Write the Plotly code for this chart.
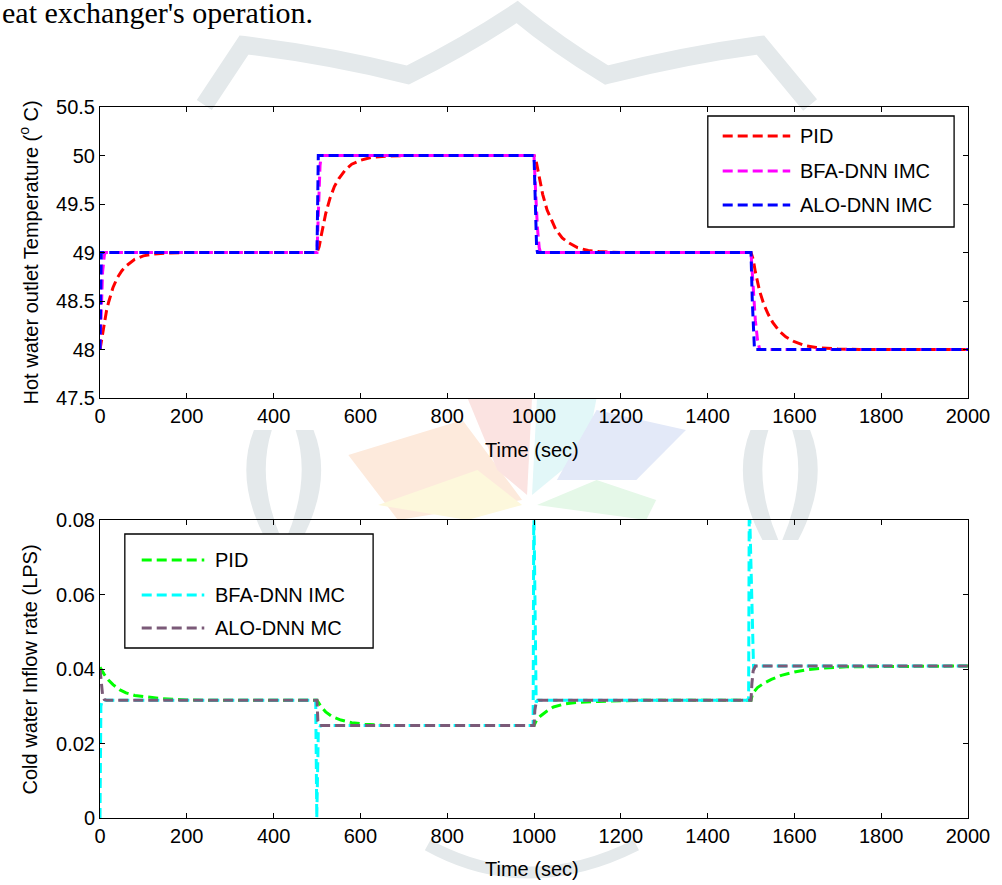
import plotly.graph_objects as go

# ---------------- data ----------------
# Top panel: hot water outlet temperature (deg C)
t_pid_top = [0, 5, 10, 15, 20, 30, 40, 50, 60, 80, 100, 125, 150, 200, 500,
             505, 510, 520, 530, 540, 550, 565, 580, 600, 625, 650, 700, 1000,
             1005, 1010, 1020, 1030, 1040, 1050, 1065, 1080, 1100, 1125, 1150, 1200, 1500,
             1505, 1510, 1520, 1530, 1540, 1550, 1565, 1580, 1600, 1625, 1650, 1700, 1750, 2000]
y_pid_top = [48.0, 48.14, 48.28, 48.40, 48.49, 48.64, 48.74, 48.81, 48.86, 48.93, 48.965, 48.985, 48.993, 49.0, 49.0,
             49.06, 49.18, 49.40, 49.56, 49.68, 49.76, 49.85, 49.91, 49.95, 49.98, 49.99, 50.0, 50.0,
             49.94, 49.82, 49.60, 49.44, 49.33, 49.24, 49.15, 49.10, 49.05, 49.02, 49.01, 49.0, 49.0,
             48.93, 48.80, 48.60, 48.46, 48.36, 48.28, 48.19, 48.13, 48.08, 48.04, 48.02, 48.005, 48.0, 48.0]

t_bfa_top = [0, 3, 6, 10, 12, 500, 503, 507, 510, 1000, 1004, 1008, 1012, 1015,
             1500, 1505, 1510, 1515, 1520, 2000]
y_bfa_top = [48.0, 48.4, 48.8, 48.97, 49.0, 49.0, 49.5, 49.9, 50.0, 50.0, 49.6, 49.25, 49.05, 49.0,
             49.0, 48.6, 48.3, 48.1, 48.0, 48.0]

t_alo_top = [0, 1.5, 3, 500, 501.5, 503, 1000, 1003, 1006, 1008,
             1500, 1503, 1506, 1508, 2000]
y_alo_top = [48.0, 48.9, 49.0, 49.0, 49.9, 50.0, 50.0, 49.4, 49.05, 49.0,
             49.0, 48.5, 48.05, 48.0, 48.0]

# Bottom panel: cold water inflow rate (LPS)
t_pid_bot = [0, 10, 20, 30, 46, 60, 80, 107, 144, 200, 250, 500,
             505, 510, 520, 535, 555, 580, 610, 650, 700, 1000,
             1006, 1015, 1030, 1045, 1070, 1097, 1150, 1200, 1250, 1500,
             1504, 1515, 1530, 1547, 1570, 1600, 1630, 1669, 1720, 2000]
y_pid_bot = [0.0405, 0.0385, 0.0370, 0.0358, 0.0344, 0.0336, 0.0329, 0.0325, 0.0320, 0.0317, 0.0316, 0.0316,
             0.0306, 0.0298, 0.0285, 0.0272, 0.0263, 0.0256, 0.0252, 0.0249, 0.0248, 0.0248,
             0.0263, 0.0274, 0.0287, 0.0298, 0.0306, 0.0310, 0.0313, 0.0315, 0.0316, 0.0316,
             0.0335, 0.0350, 0.0362, 0.0372, 0.0383, 0.0392, 0.0398, 0.0403, 0.0406, 0.0408]

t_bfa_bot = [0, 2, 5, 497, 499.5, 503, 508, 998, 999.5, 1005, 1008,
             1494.5, 1496, 1506, 1510, 2000]
y_bfa_bot = [0.0, 0.0300, 0.0316, 0.0316, 0.0, 0.0230, 0.0248, 0.0248, 0.0860, 0.0310, 0.0316,
             0.0316, 0.0860, 0.0400, 0.0408, 0.0408]

t_alo_bot = [0, 3, 6, 10, 15, 500, 502, 506, 1000, 1002, 1005, 1010,
             1500, 1502, 1505, 1510, 2000]
y_alo_bot = [0.0400, 0.0360, 0.0330, 0.0318, 0.0316, 0.0316, 0.0260, 0.0248, 0.0248, 0.0290, 0.0310, 0.0316,
             0.0316, 0.0360, 0.0395, 0.0408, 0.0408]

names_top = ["PID", "BFA-DNN IMC", "ALO-DNN IMC"]
names_bot = ["PID", "BFA-DNN IMC", "ALO-DNN MC"]
colors_top = ["#ff0000", "#ff00ff", "#0000ff"]
colors_bot = ["#00ff00", "#00ffff", "#7b5a78"]

x_ticks = [0, 200, 400, 600, 800, 1000, 1200, 1400, 1600, 1800, 2000]
y_ticks_top = [47.5, 48, 48.5, 49, 49.5, 50, 50.5]
y_ticks_bot = [0, 0.02, 0.04, 0.06, 0.08]

# ---------------- figure ----------------
W, H = 1002, 885
ML, MR, MT, MB = 100, 28, 107, 67
PW, PH = W - ML - MR, H - MT - MB

def py(pix):  # pixel row -> paper y
    return (H - MB - pix) / PH

def px(pix):  # pixel column -> paper x
    return (pix - ML) / PW

def path(cmds):
    out = []
    for c in cmds:
        if isinstance(c, str):
            out.append(c)
        else:
            out.append(f"{px(c[0]):.5f},{py(c[1]):.5f}")
    return " ".join(out)

FONT = "Liberation Sans, Arial, sans-serif"
DASH = "10px,5px"
LW = 3

fig = go.Figure()
top_series = [(t_pid_top, y_pid_top), (t_bfa_top, y_bfa_top), (t_alo_top, y_alo_top)]
bot_series = [(t_pid_bot, y_pid_bot), (t_bfa_bot, y_bfa_bot), (t_alo_bot, y_alo_bot)]
for (tx, ty), n, c in zip(top_series, names_top, colors_top):
    fig.add_trace(go.Scatter(x=tx, y=ty, mode="lines", name=n, showlegend=False,
                             line=dict(color=c, width=LW, dash=DASH), xaxis="x", yaxis="y"))
for (tx, ty), n, c in zip(bot_series, names_bot, colors_bot):
    fig.add_trace(go.Scatter(x=tx, y=ty, mode="lines", name=n, showlegend=False,
                             line=dict(color=c, width=LW, dash=DASH), xaxis="x2", yaxis="y2"))

top_dom = [py(398), 1.0]
bot_dom = [0.0, py(520)]

axis_common = dict(showgrid=False, zeroline=False, showline=True, linecolor="black", linewidth=1,
                   mirror="ticks", ticks="inside", ticklen=5, tickcolor="black", tickwidth=1,
                   tickfont=dict(family=FONT, size=20, color="black"))

fig.update_layout(
    width=W, height=H,
    margin=dict(l=ML, r=MR, t=MT, b=MB),
    paper_bgcolor="white", plot_bgcolor="white",
    xaxis=dict(domain=[0, 1], anchor="y", range=[0, 2000], tickvals=x_ticks, **axis_common),
    yaxis=dict(domain=top_dom, anchor="x", range=[47.5, 50.5], tickvals=y_ticks_top,
               ticktext=[f"{v:g}" for v in y_ticks_top], **axis_common),
    xaxis2=dict(domain=[0, 1], anchor="y2", range=[0, 2000], tickvals=x_ticks, **axis_common),
    yaxis2=dict(domain=bot_dom, anchor="x2", range=[0, 0.08], tickvals=y_ticks_bot,
                ticktext=["0", "0.02", "0.04", "0.06", "0.08"], **axis_common),
)

ann = []
shapes = []

# faint watermark behind the page (drawn below the white plot areas)
GRAY = "#e4e9eb"
shapes.append(dict(type="path", xref="paper", yref="paper", layer="below",
                   path=path(["M", (205, 105), "L", (245, 45), "Q", (330, 55), (410, 75),
                              "Q", (470, 45), (520, 12), "Q", (560, 45), (610, 75),
                              "Q", (690, 55), (765, 45), "L", (815, 105)]),
                   line=dict(color=GRAY, width=18)))
for cx in (285, 785):
    for s in (-1, 1):
        shapes.append(dict(type="path", xref="paper", yref="paper", layer="below",
                           path=path(["M", (cx + s * 30, 430), "Q", (cx + s * 50, 480), (cx + s * 18, 540),
                                      "L", (cx + s * 2, 540), "Q", (cx + s * 28, 480), (cx + s * 12, 430), "Z"]),
                           fillcolor=GRAY, line=dict(width=0)))
fan = [
    ("#fdeadc", [(350, 455), (465, 420), (525, 500), (400, 520)]),
    ("#fbe3e1", [(470, 398), (535, 398), (530, 495), (500, 470)]),
    ("#e2f7f8", [(540, 398), (600, 398), (590, 450), (535, 495)]),
    ("#e3e9f8", [(600, 410), (690, 430), (640, 480), (560, 480)]),
    ("#fdf8dc", [(380, 505), (480, 470), (525, 505), (470, 520)]),
    ("#e5f8e8", [(540, 505), (600, 480), (660, 500), (650, 520)]),
]
for col, pts in fan:
    cmds = ["M", pts[0]]
    for p in pts[1:]:
        cmds += ["L", p]
    cmds.append("Z")
    shapes.append(dict(type="path", xref="paper", yref="paper", layer="below", path=path(cmds),
                       fillcolor=col, line=dict(width=0)))
shapes.append(dict(type="path", xref="paper", yref="paper", layer="below",
                   path=path(["M", (430, 845), "Q", (530, 900), (640, 845)]),
                   line=dict(color=GRAY, width=12)))

# caption fragment at the top of the page
ann.append(dict(text="eat exchanger's operation.", xref="paper", yref="paper", x=px(-1), y=py(13),
                xanchor="left", yanchor="middle", showarrow=False,
                font=dict(family="Liberation Serif, Times New Roman, serif", size=30, color="black")))
# axis titles
ann.append(dict(text="Time (sec)", xref="paper", yref="paper", x=px(535), y=py(450),
                xanchor="center", yanchor="middle", showarrow=False,
                font=dict(family=FONT, size=20, color="black")))
ann.append(dict(text="Time (sec)", xref="paper", yref="paper", x=px(535), y=py(869),
                xanchor="center", yanchor="middle", showarrow=False,
                font=dict(family=FONT, size=20, color="black")))
ann.append(dict(text="Hot water outlet Temperature (<sup>o</sup> C)", xref="paper", yref="paper",
                x=px(28), y=py(252), xanchor="center", yanchor="middle", textangle=-90, showarrow=False,
                font=dict(family=FONT, size=20, color="black")))
ann.append(dict(text="Cold water Inflow rate (LPS)", xref="paper", yref="paper",
                x=px(30), y=py(669), xanchor="center", yanchor="middle", textangle=-90, showarrow=False,
                font=dict(family=FONT, size=20, color="black")))

# legends (drawn as boxes with line samples and labels)
def legend(box, rows, x0, x1, xt, names, colors):
    bx0, by0, bx1, by1 = box
    shapes.append(dict(type="rect", xref="paper", yref="paper", x0=px(bx0), x1=px(bx1),
                       y0=py(by1), y1=py(by0), line=dict(color="black", width=1.3),
                       fillcolor="white", layer="above"))
    for r, n, c in zip(rows, names, colors):
        shapes.append(dict(type="line", xref="paper", yref="paper", x0=px(x0), x1=px(x1),
                           y0=py(r), y1=py(r), line=dict(color=c, width=LW, dash=DASH), layer="above"))
        ann.append(dict(text=n, xref="paper", yref="paper", x=px(xt), y=py(r), xanchor="left",
                        yanchor="middle", showarrow=False, font=dict(family=FONT, size=20, color="black")))

legend((712, 116, 960, 227), [136, 171, 205], 727, 795, 803, names_top, colors_top)
legend((125, 534, 375, 648), [560, 595, 628], 142, 205, 214, names_bot, colors_bot)

fig.update_layout(annotations=ann, shapes=shapes)
fig.write_html("out.html", config={"displayModeBar": False},
               post_script="document.body.style.margin='0px';document.body.style.overflow='hidden';")
